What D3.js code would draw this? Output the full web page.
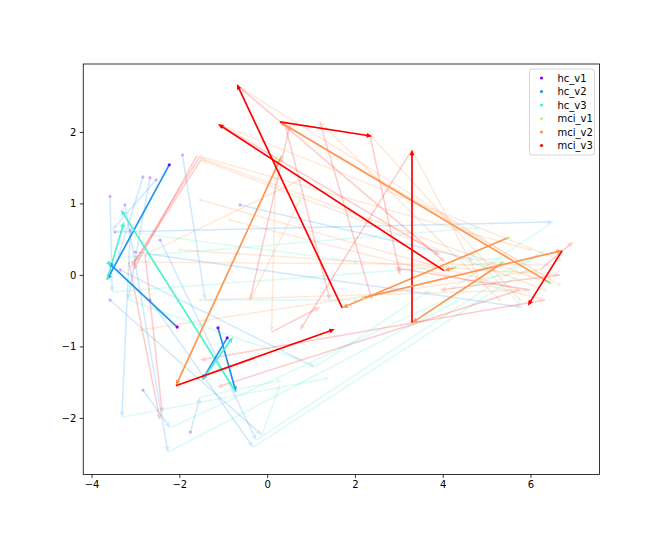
<!DOCTYPE html>
<html>
<head>
<meta charset="utf-8">
<script src="https://cdn.jsdelivr.net/npm/d3@7"></script>
<style>
body{margin:0;background:#fff;}
svg{display:block;font-family:"DejaVu Sans",sans-serif;}
</style>
</head>
<body>
<div class="chart"></div>
<script>
//Visit positions per subject, [x, y]; the first rows of each group are the highlighted subjects
const hcV1 = [[-2.23,1.54],[-2.05,-0.73],[-1.12,-0.74],[-0.91,-0.88],
	[-3.58,1.10],[-2.83,1.37],[-2.67,1.36],[-3.24,0.98],[-3.12,0.63],[-2.83,-1.61],[-2.67,-0.35],[-2.44,0.49],
	[-3.47,0.60],[-3.01,0.32],[-0.62,0.98],[-1.93,1.68],[-1.75,-2.20],[-3.35,0.07],[-2.53,1.33],[-3.58,-0.35]];
const hcV2 = [[-3.65,-0.07],[-3.63,0.18],[-0.71,-1.64],[-1.48,-1.47],
	[-3.53,-0.24],[-3.40,0.24],[-3.17,-0.35],[-2.26,-2.48],[-3.31,-1.99],[-2.21,-2.14],[-0.32,-2.41],[-0.25,-2.31],
	[6.51,0.74],[5.80,-0.45],[4.73,0.21],[-1.41,-0.35],[-1.53,-1.71],[1.09,-1.29],[-3.53,0.63],[-0.12,-2.24]];
const hcV3 = [[-3.26,0.74],[-3.55,0.12],[-3.33,0.91],[-0.78,-0.87],
	[5.42,0.18],[4.85,0.66],[0.75,-1.19],[4.39,-0.35],[1.43,-1.44],[6.22,0.28],[5.99,0.10],[6.33,0.35],
	[4.17,-0.21],[4.62,0.32],[5.53,0.24],[2.11,-0.35],[0.34,-1.47],[3.71,-0.21],[2.11,0.18],[0.29,-1.54]];

const mciV1 = [[6.44,-0.11],[0.32,1.65],[5.49,0.52],[4.28,0.10],[5.37,0.17],[2.18,-0.32],
	[6.22,-0.07],[6.33,-0.21],[5.99,0.35],[5.76,0.18],[6.67,-0.14],[5.30,-0.35],[6.45,0.14],[0.75,1.33],
	[5.76,-0.35],[4.85,-0.07],[-2.90,-0.77],[-1.98,0.35],[-1.53,1.05],[-0.85,0.77],[0.75,1.05],[-1.53,-0.35],
	[6.67,0.21],[0.20,1.65]];
const mciV2 = [[0.29,2.14],[-2.08,-1.55],[1.71,-0.46],[4.03,0.06],[3.30,-0.67],[6.72,0.34],
	[-1.55,1.64],[-1.51,1.61],[-1.60,1.67],[-0.62,2.62],[0.41,2.10],[1.20,2.14],[-3.15,0.18],[-2.78,0.28],
	[2.34,1.96],[3.30,1.75],[6.22,0.07],[6.67,0.00],[5.76,-0.21],[6.33,-0.35],[-0.39,-0.35],[5.99,-0.21],
	[-1.07,2.10],[0.10,-0.80]];
const mciV3 = [[2.39,1.94],[1.54,-0.76],[-0.69,2.67],[-1.12,2.11],[3.30,1.75],[5.94,-0.43],
	[-3.10,0.11],[-3.01,0.18],[-3.05,0.07],[4.05,0.18],[1.43,-0.35],[2.39,-0.35],[-2.44,-2.03],[-2.39,-1.93],
	[3.03,0.00],[0.75,-0.77],[6.97,0.46],[3.94,-0.21],[-1.14,-1.57],[-1.53,-1.19],[0.52,2.10],[2.91,0.10],
	[3.94,0.28],[1.20,-0.45]];

const HC_HIGHLIGHT = 4;
const MCI_HIGHLIGHT = 6;

const legendLabels = ['hc_v1','hc_v2','hc_v3','mci_v1','mci_v2','mci_v3'];
const legendColors = ['#8000ff','#1996f3','#4cf2ce','#b3f296','#ff964f','#ff0000'];
const xTicks = [-4,-2,0,2,4,6];
const yTicks = [-2,-1,0,1,2];

//Prep work
const W = 666, H = 533;
const margin = {t:64, r:66.6, b:58.6, l:83.25};
const w = W - margin.l - margin.r;
const h = H - margin.t - margin.b;

const svg = d3.select('.chart')
	.append('svg')
		.attr('width', W)
		.attr('height', H);

const plot = svg.append('g')
	.attr('transform', `translate(${margin.l}, ${margin.t})`);

const scaleX = d3.scaleLinear().domain([-4.19, 7.57]).range([0, w]);
const scaleY = d3.scaleLinear().domain([-2.79, 2.95]).range([h, 0]);

const arrowLayer = plot.append('g');

function drawArrow(p0, p1, color, opacity, width){
	const x0 = scaleX(p0[0]), y0 = scaleY(p0[1]);
	const x1 = scaleX(p1[0]), y1 = scaleY(p1[1]);
	const len = Math.hypot(x1 - x0, y1 - y0);
	if(len < 0.5) return;
	const ux = (x1 - x0)/len, uy = (y1 - y0)/len;
	const hl = Math.min(5.5, len), hw = 2.4;
	const bx = x1 - ux*hl, by = y1 - uy*hl;

	const g = arrowLayer.append('g').style('opacity', opacity);
	g.append('line')
		.attr('x1', x0).attr('y1', y0)
		.attr('x2', bx + ux*1).attr('y2', by + uy*1)
		.style('stroke', color)
		.style('stroke-width', width);
	g.append('path')
		.attr('d', `M${x1},${y1}L${bx - uy*hw},${by + ux*hw}L${bx + uy*hw},${by - ux*hw}Z`)
		.style('fill', color);
}

function drawGroup(v1, v2, v3, nHighlight, c2, c3, bold){
	v1.forEach(function(d, i){
		const isBold = i < nHighlight;
		if(isBold !== bold) return;
		const op = isBold ? 1 : 0.2;
		const lw = isBold ? 1.7 : 1.5;
		drawArrow(v1[i], v2[i], c2, op, lw);
		drawArrow(v2[i], v3[i], c3, op, lw);
	});
}

//faint trajectories first, highlighted ones on top
drawGroup(hcV1, hcV2, hcV3, HC_HIGHLIGHT, legendColors[1], legendColors[2], false);
drawGroup(mciV1, mciV2, mciV3, MCI_HIGHLIGHT, legendColors[4], legendColors[5], false);
drawGroup(hcV1, hcV2, hcV3, HC_HIGHLIGHT, legendColors[1], legendColors[2], true);
drawGroup(mciV1, mciV2, mciV3, MCI_HIGHLIGHT, legendColors[4], legendColors[5], true);

//first visit markers
plot.selectAll('.hc-dot')
	.data(hcV1)
	.enter().append('circle')
		.attr('class','hc-dot')
		.attr('cx', d => scaleX(d[0]))
		.attr('cy', d => scaleY(d[1]))
		.attr('r', 1.6)
		.style('fill', legendColors[0])
		.style('opacity', (d,i) => i < HC_HIGHLIGHT ? 1 : 0.3);

plot.selectAll('.mci-dot')
	.data(mciV1)
	.enter().append('circle')
		.attr('class','mci-dot')
		.attr('cx', d => scaleX(d[0]))
		.attr('cy', d => scaleY(d[1]))
		.attr('r', 1.6)
		.style('fill', legendColors[3])
		.style('opacity', (d,i) => i < MCI_HIGHLIGHT ? 1 : 0.3);

//axes
const axisX = plot.append('g')
	.attr('transform', `translate(0, ${h})`)
	.call(d3.axisBottom(scaleX).tickValues(xTicks).tickFormat(d3.format('d')).tickSize(3.5).tickPadding(3.5));
const axisY = plot.append('g')
	.call(d3.axisLeft(scaleY).tickValues(yTicks).tickFormat(d3.format('d')).tickSize(3.5).tickPadding(3.5));

[axisX, axisY].forEach(function(ax){
	ax.select('.domain').remove();
	ax.selectAll('line').style('stroke', '#000').style('stroke-width', 0.8);
	ax.selectAll('text')
		.style('font-family', '"DejaVu Sans", sans-serif')
		.style('font-size', '10px')
		.style('fill', '#000');
});

plot.append('rect')
	.attr('width', w)
	.attr('height', h)
	.style('fill', 'none')
	.style('stroke', '#000')
	.style('stroke-width', 0.8);

//legend
const legend = svg.append('g').attr('transform', 'translate(529.5, 69)');
legend.append('rect')
	.attr('width', 65)
	.attr('height', 86)
	.attr('rx', 2.5)
	.style('fill', '#fff')
	.style('fill-opacity', 0.8)
	.style('stroke', '#cccccc')
	.style('stroke-width', 0.8);

const items = legend.selectAll('.item')
	.data(legendLabels)
	.enter().append('g')
		.attr('class', 'item')
		.attr('transform', (d,i) => `translate(0, ${9 + i*13.5})`);
items.append('circle')
	.attr('cx', 12)
	.attr('r', 1.6)
	.style('fill', (d,i) => legendColors[i]);
items.append('text')
	.attr('x', 28)
	.attr('dy', '0.35em')
	.style('font-size', '10px')
	.style('fill', '#000')
	.text(d => d);
</script>
</body>
</html>
